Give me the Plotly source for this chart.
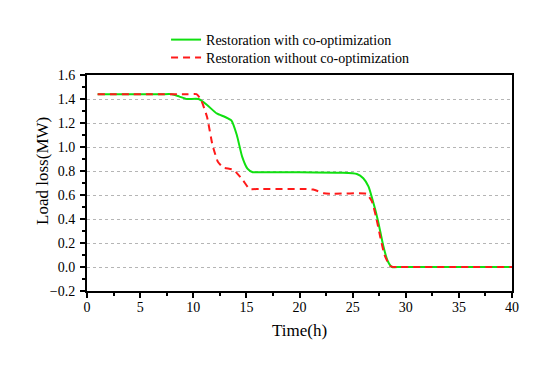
import plotly.graph_objects as go

# Data
green_x = [1, 7, 8, 8.7, 9.4, 10.5, 11.3, 12.2, 13.0, 13.6, 14.1, 14.6, 15.1, 15.6, 16.5, 20, 24, 25.4, 26.0, 26.5, 27.0, 27.4, 27.9, 28.3, 28.7, 29.5, 40]
green_y = [1.44, 1.44, 1.44, 1.42, 1.40, 1.40, 1.35, 1.28, 1.25, 1.22, 1.10, 0.92, 0.82, 0.79, 0.79, 0.79, 0.785, 0.775, 0.74, 0.67, 0.52, 0.38, 0.17, 0.05, 0.0, 0.0, 0.0]

red_x = [1, 9.5, 10.3, 10.7, 11.3, 11.8, 12.3, 12.8, 13.8, 14.7, 15.3, 16.2, 20.5, 21.3, 22.3, 23.2, 26.3, 26.8, 27.2, 27.6, 28.0, 28.5, 28.8, 29.5, 40]
red_y = [1.44, 1.44, 1.44, 1.40, 1.25, 1.02, 0.88, 0.83, 0.81, 0.72, 0.65, 0.65, 0.65, 0.645, 0.615, 0.61, 0.61, 0.55, 0.42, 0.25, 0.10, 0.01, 0.0, 0.0, 0.0]

series_names = ["Restoration with co-optimization", "Restoration without co-optimization"]

font_family = "Liberation Serif"

fig = go.Figure()
fig.add_trace(go.Scatter(x=green_x, y=green_y, mode="lines", name=series_names[0], legend="legend",
                         line=dict(color="#10e010", width=2, shape="spline", smoothing=0.5)))
fig.add_trace(go.Scatter(x=red_x, y=red_y, mode="lines", name=series_names[1], legend="legend2",
                         line=dict(color="#ff1a1a", width=2, dash="7px,5px", shape="spline", smoothing=0.4)))

legend_common = dict(xanchor="left", yanchor="middle", bgcolor="rgba(0,0,0,0)",
                     font=dict(size=14, family=font_family), itemwidth=30)

fig.update_layout(
    width=550, height=372,
    margin=dict(l=79, r=46, t=67, b=89),
    paper_bgcolor="white", plot_bgcolor="white",
    font=dict(family=font_family, size=14, color="black"),
    showlegend=True,
    legend=dict(x=0.186, y=1.162, **legend_common),
    legend2=dict(x=0.186, y=1.079, **legend_common),
    xaxis=dict(range=[0, 40], tickvals=[0, 5, 10, 15, 20, 25, 30, 35, 40],
               showline=True, linecolor="black", linewidth=2, mirror=True,
               ticks="outside", ticklen=5, tickwidth=1.5, tickcolor="black",
               ticklabelstandoff=-3,
               minor=dict(ticks="outside", ticklen=3, tickwidth=1.5, dtick=2.5, tickcolor="black", showgrid=False),
               showgrid=False, zeroline=False,
               title=dict(text="Time(h)", font=dict(size=17, family=font_family), standoff=10),
               tickfont=dict(size=14, family=font_family)),
    yaxis=dict(range=[-0.2, 1.6], dtick=0.2, tick0=0, tickformat=".1f",
               showline=True, linecolor="black", linewidth=2, mirror=True,
               ticks="outside", ticklen=5, tickwidth=1.5, tickcolor="black",
               ticklabelstandoff=2,
               minor=dict(ticks="outside", ticklen=3, tickwidth=1.5, dtick=0.1, tickcolor="black", showgrid=False),
               showgrid=True, gridcolor="#b5b5b5", griddash="dot", gridwidth=1,
               zeroline=False,
               tickfont=dict(size=14, family=font_family)),
    annotations=[dict(text="Load loss(MW)", textangle=-90, xref="paper", yref="paper",
                      x=-0.1035, y=0.556, xanchor="center", yanchor="middle", showarrow=False,
                      font=dict(size=17, family=font_family))],
)

fig.write_html("out.html")
